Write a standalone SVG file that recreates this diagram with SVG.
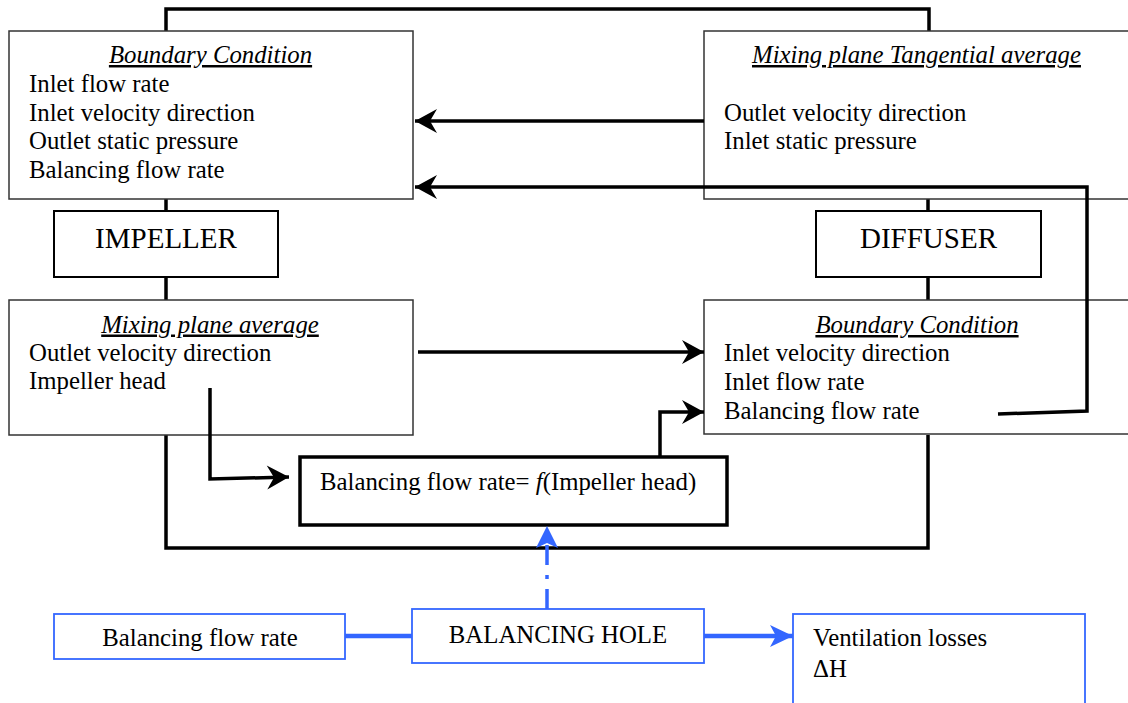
<svg xmlns="http://www.w3.org/2000/svg" width="1128" height="703" viewBox="0 0 1128 703">
<style>
text{font-family:"Liberation Serif","Times New Roman",serif;font-size:24.8px;fill:#000}
.title{font-style:italic;text-decoration:underline}
.big{font-size:29px}
.box{fill:#fff;stroke:#333;stroke-width:1.5}
.mid{fill:#fff;stroke:#000;stroke-width:2}
.thick{fill:#fff;stroke:#000;stroke-width:3.5}
.bbox{fill:#fff;stroke:#3366ff;stroke-width:1.8}
.con{fill:none;stroke:#000;stroke-width:3.5}
.bcon{fill:none;stroke:#3366ff;stroke-width:4.5}
.dash{fill:none;stroke:#3366ff;stroke-width:3.5;stroke-dasharray:20 10 4 10}
</style>
<defs>
<marker id="ah" markerUnits="userSpaceOnUse" markerWidth="24" markerHeight="26" viewBox="-23 -13 24 26" refX="0" refY="0" orient="auto">
<path d="M0,0 L-22,-12 L-15,0 L-22,12 Z" fill="#000"/>
</marker>
<marker id="bh" markerUnits="userSpaceOnUse" markerWidth="26" markerHeight="26" viewBox="-25 -13 26 26" refX="0" refY="0" orient="auto">
<path d="M0,0 L-23,-11 L-17,0 L-23,11 Z" fill="#3366ff"/>
</marker>
</defs>

<g id="connectors">
<path class="con" d="M166,32 L166,9 L929,9 L929,32"/>
<path class="con" d="M166,199 L166,211 M166,277 L166,300 M928,199 L928,211 M928,277 L928,300"/>
<path class="con" d="M166,435 L166,548 L928,548 L928,435"/>
</g>

<g id="bc-impeller">
<rect class="box" x="9" y="31" width="404" height="168"/>
<text class="title" x="210.5" y="63" text-anchor="middle">Boundary Condition</text>
<text x="29" y="92">Inlet flow rate</text>
<text x="29" y="120.5">Inlet velocity direction</text>
<text x="29" y="149">Outlet static pressure</text>
<text x="29" y="177.5">Balancing flow rate</text>
</g>

<g id="mp-tangential">
<rect class="box" x="704" y="31" width="440" height="168"/>
<text class="title" x="916.5" y="63" text-anchor="middle">Mixing plane Tangential average</text>
<text x="724" y="120.5">Outlet velocity direction</text>
<text x="724" y="149">Inlet static pressure</text>
</g>

<g id="impeller">
<rect class="mid" x="54" y="211" width="224" height="66"/>
<text class="big" x="166" y="248" text-anchor="middle">IMPELLER</text>
</g>

<g id="diffuser">
<rect class="mid" x="816" y="211" width="225" height="66"/>
<text class="big" x="928.5" y="248" text-anchor="middle">DIFFUSER</text>
</g>

<g id="mp-average">
<rect class="box" x="9" y="300" width="404" height="135"/>
<text class="title" x="210" y="332.5" text-anchor="middle">Mixing plane average</text>
<text x="29" y="360.5">Outlet velocity direction</text>
<text x="29" y="389">Impeller head</text>
</g>

<g id="bc-diffuser">
<rect class="box" x="704" y="300" width="440" height="134"/>
<text class="title" x="917" y="333" text-anchor="middle">Boundary Condition</text>
<text x="724" y="361">Inlet velocity direction</text>
<text x="724" y="390">Inlet flow rate</text>
<text x="724" y="418.5">Balancing flow rate</text>
</g>

<g id="balancing-function">
<rect class="thick" x="300" y="457" width="427" height="68"/>
<text x="320" y="490">Balancing flow rate= <tspan font-style="italic">f</tspan>(Impeller head)</text>
</g>

<g id="balancing-flow-rate">
<rect class="bbox" x="54" y="614" width="291" height="45"/>
<text x="200" y="646" text-anchor="middle">Balancing flow rate</text>
</g>

<g id="balancing-hole">
<rect class="bbox" x="412" y="609" width="292" height="54"/>
<text x="558" y="642.5" text-anchor="middle">BALANCING HOLE</text>
</g>

<g id="ventilation-losses">
<rect class="bbox" x="793" y="614" width="292" height="100"/>
<text x="813" y="646">Ventilation losses</text>
<text x="813" y="676.5">ΔH</text>
</g>

<g id="arrows">
<path class="con" d="M704,121 L415,121" marker-end="url(#ah)"/>
<path class="con" d="M998,414 L1087,411 L1087,187 L415,187" marker-end="url(#ah)"/>
<path class="con" d="M418,352 L704,352" marker-end="url(#ah)"/>
<path class="con" d="M210,388 L210,479 L289,477" marker-end="url(#ah)"/>
<path class="con" d="M660,457 L660,412 L704,412" marker-end="url(#ah)"/>
<path class="bcon" d="M345,636 L412,636"/>
<path class="bcon" d="M704,636 L793,636" marker-end="url(#bh)"/>
<path class="dash" d="M547,609 L547,528"/>
<path d="M547,526 L536,548 L547,543 L558,548 Z" fill="#3366ff"/>
</g>
</svg>
